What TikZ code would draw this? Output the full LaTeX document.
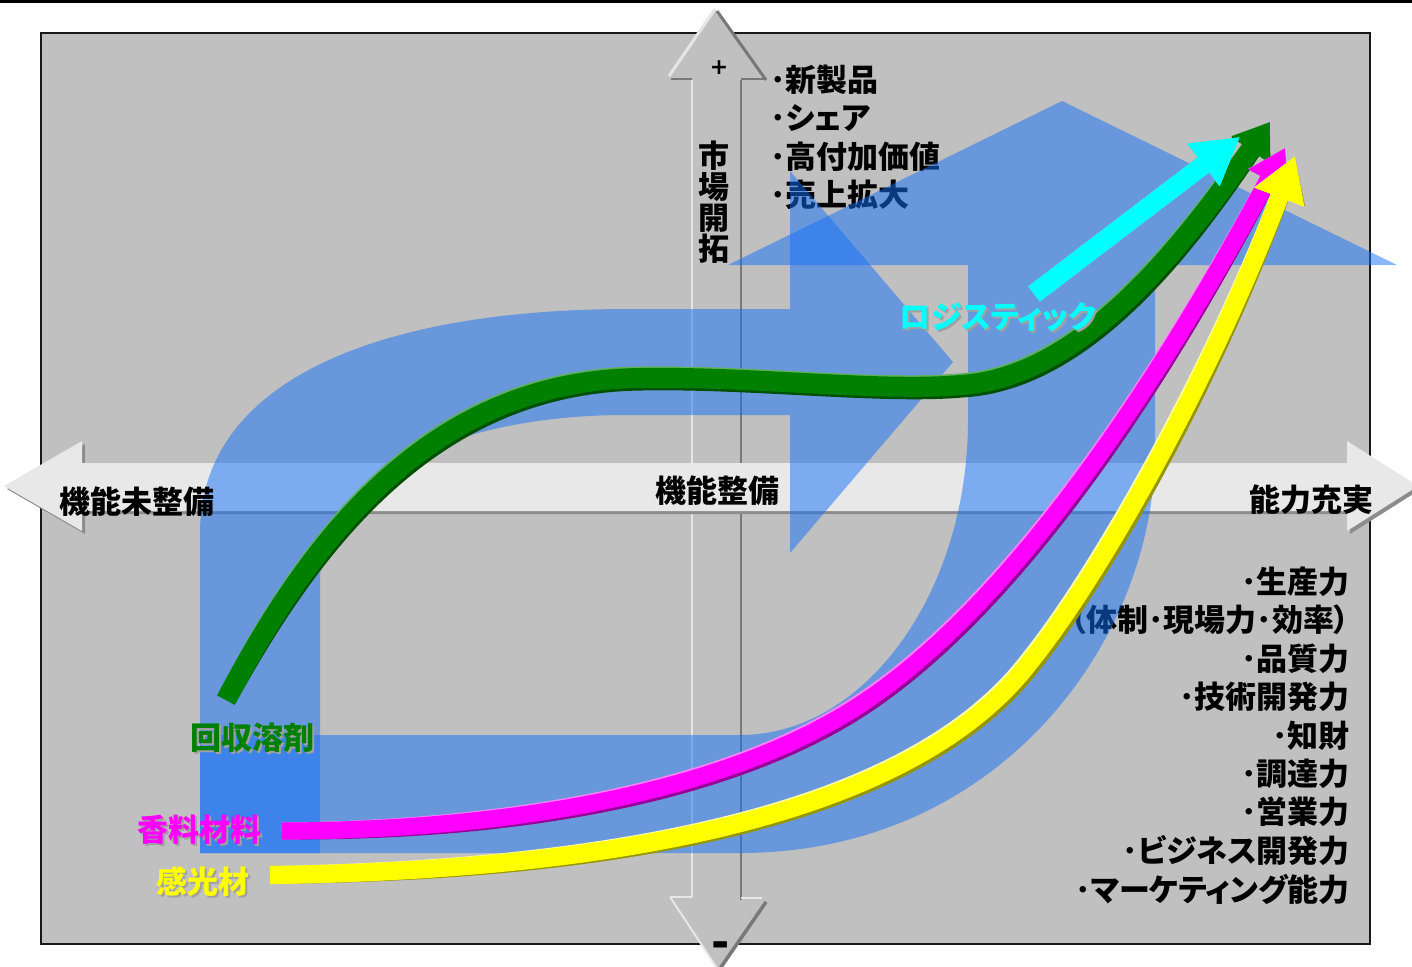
\documentclass[tikz,border=0pt]{standalone}
\usepackage{fontspec}
\newfontfamily\jp{Noto Sans CJK JP}[RawFeature=+palt]
\newfontfamily\sym{DejaVu Sans}
\usetikzlibrary{arrows.meta}
\definecolor{bg}{RGB}{192,192,192}
\definecolor{blu}{RGB}{20,112,248}
\definecolor{axl}{RGB}{232,232,232}
\definecolor{axd}{RGB}{140,140,140}
\definecolor{vlight}{RGB}{230,230,230}
\definecolor{vdark}{RGB}{120,120,120}
\definecolor{gmain}{RGB}{0,128,0}
\definecolor{glight}{RGB}{96,176,96}
\definecolor{gdark}{RGB}{0,80,0}
\definecolor{mmain}{RGB}{255,0,255}
\definecolor{mlight}{RGB}{255,128,255}
\definecolor{mdark}{RGB}{150,0,150}
\definecolor{ymain}{RGB}{255,255,0}
\definecolor{ylight}{RGB}{255,255,160}
\definecolor{ydark}{RGB}{150,150,0}
\definecolor{cmain}{RGB}{0,255,255}
\definecolor{clight}{RGB}{150,255,255}
\definecolor{cdark}{RGB}{0,150,150}
\definecolor{shd}{RGB}{160,160,160}
\newcommand{\myribbon}[6]{%
  \draw[#3, line width=#4, shift={(2.5,2.5)}, #5] #6;
  \draw[#2, line width=#4, shift={(-1.5,-1.5)}, #5] #6;
  \draw[#1, line width=#4, #5] #6;
}
\begin{document}
\begin{tikzpicture}[x=1pt,y=-1pt,
  jt/.style={font=\jp\bfseries\fontsize{31}{31}\selectfont, inner sep=0pt},
  lbl/.style={font=\jp\bfseries\fontsize{31}{31}\selectfont, inner sep=0pt},
  bluefill/.style={fill=blu, fill opacity=0.5}]
\useasboundingbox (0,0) rectangle (1412,966);
\fill[white] (0,0) rectangle (1412,966);
% top rule
\fill[black] (0,0) rectangle (1412,3);
% background panel
\draw[line width=2pt, draw=black!90, fill=bg] (41,33) rectangle (1370,944);

% vertical axis
\draw[line width=2.5pt, vlight] (692,80) -- (692,897);
\draw[line width=2.5pt, vdark] (741,80) -- (741,900);
\fill[bg] (669,76) -- (715,9) -- (765,79) -- cycle;
\draw[line width=3pt, vlight] (669,76) -- (715,9);
\draw[line width=3pt, vdark] (717,11) -- (766,80);
\draw[line width=2pt, vdark] (671,79) -- (692,79);
\draw[line width=2pt, vdark] (741,79) -- (764,79);
\fill[bg] (670,897) -- (765,901) -- (718,970) -- cycle;
\draw[line width=2pt, vlight] (670,897) -- (717,968);
\draw[line width=3.5pt, vdark] (766,902) -- (719,970);
\draw[line width=2pt, vlight] (670,897) -- (692,897);
\draw[line width=2pt, vlight] (741,898) -- (762,898);

% horizontal axis arrow
\fill[axd] (7,489) -- (85,444) -- (85,466) -- (1350,466) -- (1350,444) -- (1421,489) -- (1350,534) -- (1350,514) -- (85,514) -- (85,534) -- cycle;
\fill[axl] (4,486) -- (82,441) -- (82,463) -- (1347,463) -- (1347,441) -- (1418,486) -- (1347,531) -- (1347,511) -- (82,511) -- (82,531) -- cycle;

% plus / minus
\node[font=\sym\bfseries\fontsize{22}{22}\selectfont, inner sep=0pt] (plus) at (719,68) {+};
\node[font=\sym\bfseries\fontsize{44}{44}\selectfont, inner sep=0pt] (minus) at (721,950) {-};

% vertical label
\node[jt, align=center] (mkt) at (714,202) {市\\場\\開\\拓};

% top list
\node[jt, anchor=west] (t1) at (770,80) {･新製品};
\node[jt, anchor=west] (t2) at (770,118) {･シェア};
\node[jt, anchor=west] (t3) at (770,157) {･高付加価値};
\node[jt, anchor=west] (t4) at (770,195) {･売上拡大};

% right list
\node[jt, anchor=east] (r1) at (1350,582) {･生産力};
\node[jt, anchor=east] (r2) at (1350,620) {（体制･現場力･効率）};
\node[jt, anchor=east] (r3) at (1350,659) {･品質力};
\node[jt, anchor=east] (r4) at (1350,697) {･技術開発力};
\node[jt, anchor=east] (r5) at (1350,736) {･知財};
\node[jt, anchor=east] (r6) at (1350,774) {･調達力};
\node[jt, anchor=east] (r7) at (1350,812) {･営業力};
\node[jt, anchor=east] (r8) at (1350,851) {･ビジネス開発力};
\node[jt, anchor=east] (r9) at (1350,889) {･マーケティング能力};

% translucent blue arrows
\path[bluefill] (200,853) -- (200,533) .. controls (200,380) and (380,309) .. (629,309)
  -- (790,309) -- (790,171) -- (953,362) -- (790,553) -- (790,415) -- (625,415)
  .. controls (470,415) and (320,470) .. (320,580) -- (320,853) -- cycle;
\path[bluefill] (200,735) -- (740,735) .. controls (865,735) and (968,593) .. (968,420)
  -- (968,265) -- (728,265) -- (1062,101) -- (1397,265) -- (1155,265) -- (1155,450)
  .. controls (1155,640) and (1000,853) .. (740,853) -- (200,853) -- cycle;

% axis labels
\node[jt] (hl) at (137,502) {機能未整備};
\node[jt] (hc) at (717,491) {機能整備};
\node[jt] (hr) at (1311,500) {能力充実};

% ribbons
\coordinate (gS) at (226,700);
\coordinate (gE) at (1270,122);
\coordinate (mS) at (282,831);
\coordinate (mE) at (1285,148);
\coordinate (yS) at (270,875);
\coordinate (yE) at (1295,156);
\myribbon{gmain}{glight}{gdark}{20pt}{-{Triangle[length=34pt,width=44pt]}}{(gS) .. controls (310,540) and (430,380) .. (640,378) .. controls (750,376) and (880,392) .. (960,385) .. controls (1080,378) and (1180,250) .. (gE)}
\myribbon{mmain}{mlight}{mdark}{17pt}{-{Triangle[length=36pt,width=42pt]}}{(mS) .. controls (520,830) and (720,790) .. (847,713) .. controls (1000,620) and (1150,400) .. (mE)}
\myribbon{ymain}{ylight}{ydark}{18pt}{-{Triangle[length=44pt,width=50pt]}}{(yS) .. controls (770,868) and (955,760) .. (1030,662) .. controls (1100,575) and (1210,380) .. (yE)}
\coordinate (cS) at (1034,294);
\coordinate (cE) at (1240,137);
\myribbon{cmain}{clight}{cdark}{19pt}{-{Triangle[length=46pt,width=50pt]}}{(cS) -- (cE)}

% ribbon labels with shadows
\node[lbl, text=shd] (lgs) at (254,740) {回収溶剤};
\node[lbl, text=gmain] (lg) at (252,738) {回収溶剤};
\node[lbl, text=shd] (lms) at (201,832) {香料材料};
\node[lbl, text=mmain] (lm) at (199,830) {香料材料};
\node[lbl, text=shd] (lys) at (205,884) {感光材};
\node[lbl, text=ymain] (ly) at (203,882) {感光材};
\node[lbl, text=shd] (lcs) at (1000,319) {ロジスティック};
\node[lbl, text=cmain] (lc) at (998,317) {ロジスティック};
\end{tikzpicture}
\end{document}
